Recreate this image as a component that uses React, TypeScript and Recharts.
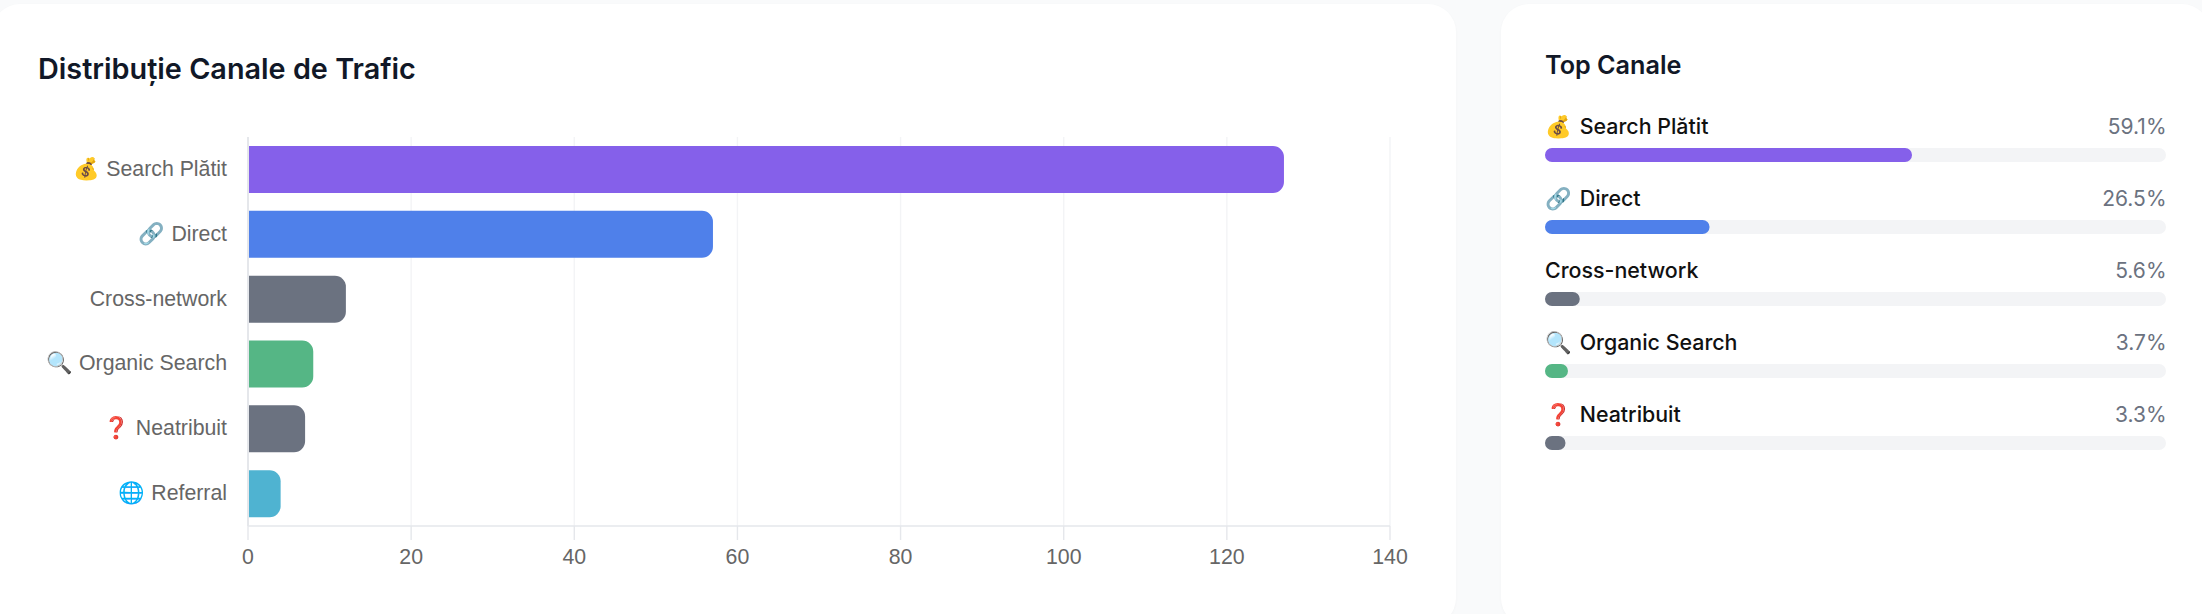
import { Bar, BarChart, CartesianGrid, Cell, LabelList, XAxis, YAxis } from "recharts"

const channels = ["💰 Search Plătit", "🔗 Direct", "Cross-network", "🔍 Organic Search", "❓ Neatribuit", "🌐 Referral"]
const sessions = [127, 57, 12, 8, 7, 4]
const channelColors = ["#8560ea", "#4f80ea", "#6b7280", "#55b685", "#6b7280", "#4fb3d1"]
const xTicks = [0, 20, 40, 60, 80, 100, 120, 140]

const topIcons = ["💰", "🔗", "", "🔍", "❓"]
const topNames = ["Search Plătit", "Direct", "Cross-network", "Organic Search", "Neatribuit"]
const topShares = [59.1, 26.5, 5.6, 3.7, 3.3]
const topColors = ["#8560ea", "#4f80ea", "#6b7280", "#55b685", "#6b7280"]

const mainData = channels.map((name, i) => ({ name, sessions: sessions[i] }))
const topData = topNames.map((name, i) => ({ name, share: topShares[i] }))

const cardStyle: React.CSSProperties = {
  position: "absolute",
  top: 4,
  height: 622,
  background: "#ffffff",
  borderRadius: 28,
  boxShadow: "0 1px 3px rgba(0,0,0,0.03)",
}

function TopLabel(props: any) {
  const { x, y, index } = props
  const icon = topIcons[index]
  return (
    <g>
      <text x={x} y={y - 14} fontFamily="Inter" fontSize={21.4} fontWeight={500} fill="#111111">
        {icon && <tspan>{icon} </tspan>}
        <tspan dx={icon ? 2 : 0}>{topNames[index]}</tspan>
      </text>
      <text x={2166.5} y={y - 14} textAnchor="end" fontFamily="Inter" fontSize={21} fill="#6b7280">
        {topShares[index].toFixed(1)}%
      </text>
    </g>
  )
}

export default function App() {
  return (
    <div style={{ position: "absolute", left: 0, top: 0, width: 2202, height: 614, overflow: "hidden", background: "#f9fafb" }}>
      <div style={{ ...cardStyle, left: -8, width: 1464 }} />
      <div style={{ ...cardStyle, left: 1501, width: 709 }} />

      <div style={{ position: "absolute", left: 38, top: 51, fontFamily: "Inter", fontWeight: 600, fontSize: 28.8, color: "#111827" }}>
        Distribuție Canale de Trafic
      </div>
      <div style={{ position: "absolute", left: 1545, top: 50, fontFamily: "Inter", fontWeight: 600, fontSize: 25.2, color: "#111827" }}>
        Top Canale
      </div>

      <div style={{ position: "absolute", left: 0, top: 0 }}>
        <BarChart
          width={1456}
          height={614}
          data={mainData}
          layout="vertical"
          margin={{ top: 137, right: 66, bottom: 28, left: 0 }}
        >
          <CartesianGrid horizontal={false} stroke="#f3f4f6" strokeWidth={1.4} />
          <XAxis
            type="number"
            domain={[0, 140]}
            ticks={xTicks}
            height={60}
            stroke="#e5e7eb"
            strokeWidth={1.4}
            tickSize={14}
            tickMargin={9}
            tick={{ fill: "#666666", fontFamily: "Liberation Sans", fontSize: 21.3 }}
          />
          <YAxis
            type="category"
            dataKey="name"
            width={248}
            stroke="#e5e7eb"
            strokeWidth={2}
            tickLine={false}
            tickMargin={15}
            interval={0}
            tick={{ fill: "#666666", fontFamily: "Liberation Sans", fontSize: 21.3, dy: -1 }}
          />
          <Bar dataKey="sessions" barSize={47} radius={[0, 11, 11, 0]} isAnimationActive={false}>
            {channels.map((name, i) => (
              <Cell key={name} fill={channelColors[i]} />
            ))}
          </Bar>
        </BarChart>
      </div>

      <div style={{ position: "absolute", left: 0, top: 0 }}>
        <BarChart
          width={2202}
          height={614}
          data={topData}
          layout="vertical"
          margin={{ top: 119, right: 36, bottom: 135, left: 1545 }}
        >
          <XAxis type="number" domain={[0, 100]} hide />
          <YAxis type="category" dataKey="name" hide />
          <Bar
            dataKey="share"
            barSize={14}
            radius={7}
            background={{ fill: "#f3f4f6", radius: 7 }}
            isAnimationActive={false}
          >
            {topNames.map((name, i) => (
              <Cell key={name} fill={topColors[i]} />
            ))}
            <LabelList dataKey="share" content={TopLabel} />
          </Bar>
        </BarChart>
      </div>
    </div>
  )
}
